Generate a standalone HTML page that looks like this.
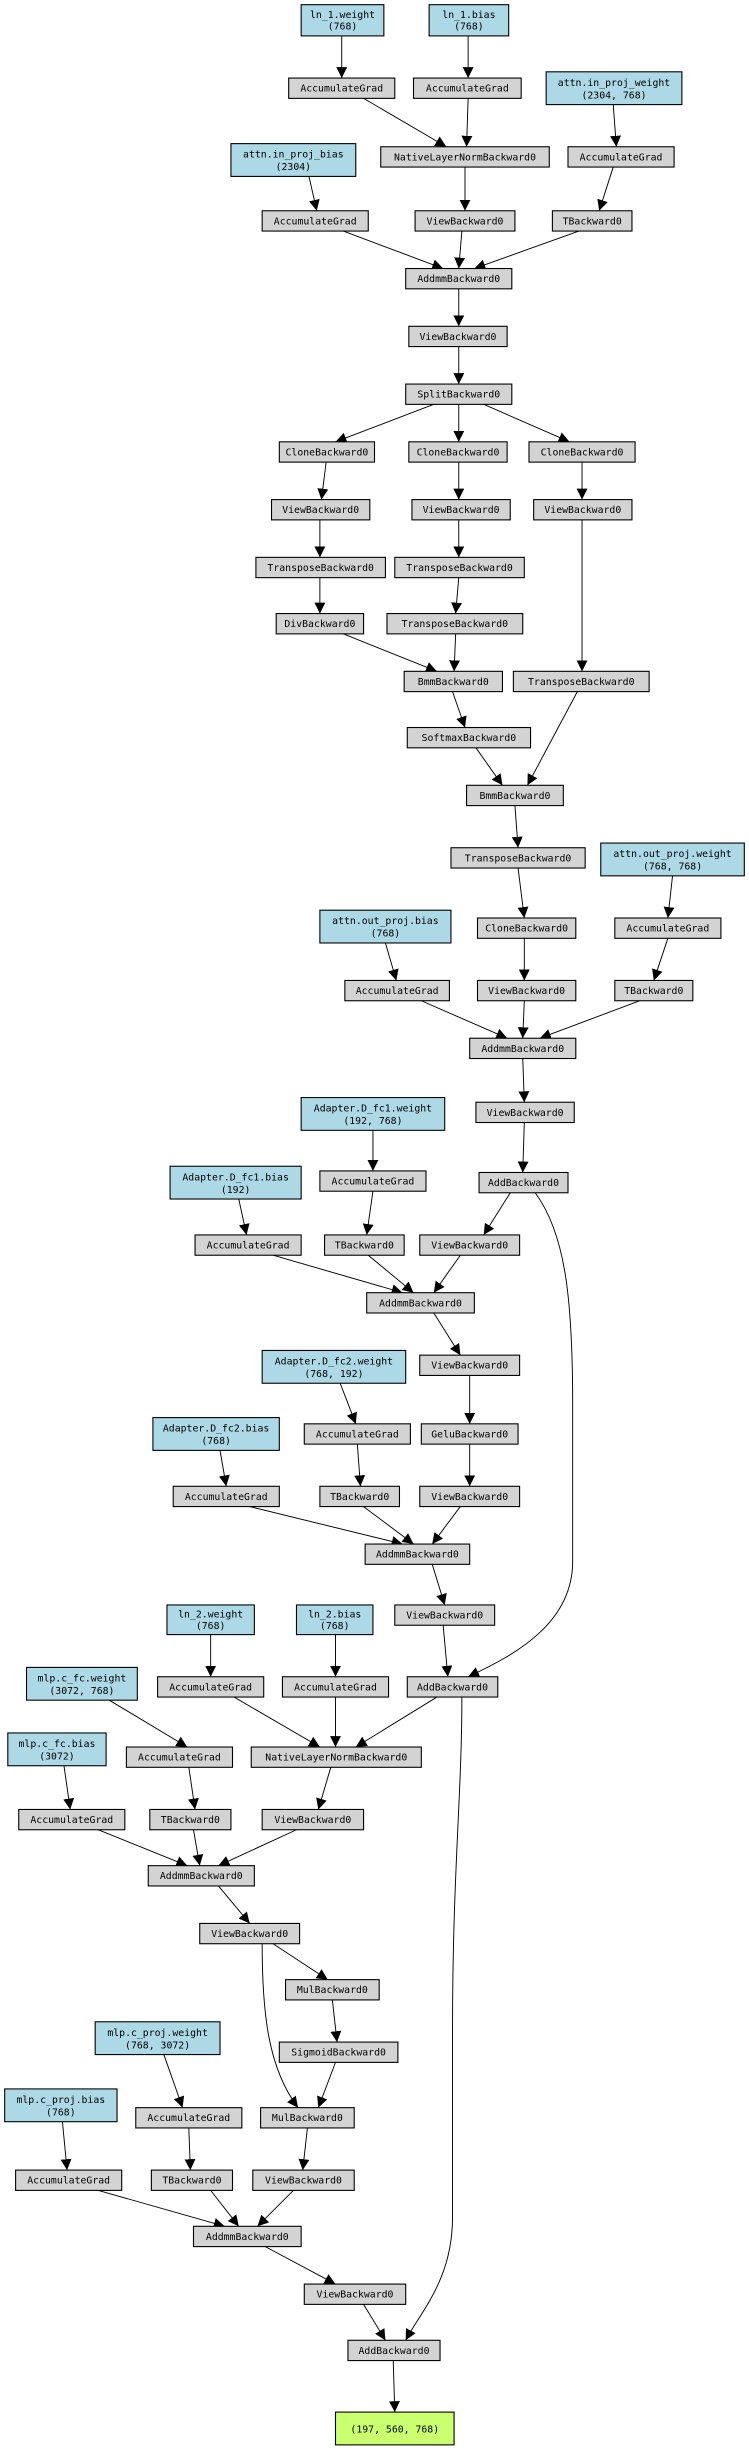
<!DOCTYPE html>
<html><head><meta charset="utf-8"><style>
html,body{margin:0;padding:0;background:#fff;}
svg{display:block;}
text{font-family:"DejaVu Sans Mono","Liberation Mono",monospace;font-size:6.3px;fill:#000;text-anchor:middle;}
.g{fill:#d3d3d3;stroke:#000;stroke-width:0.7;}
.b{fill:#add8e6;stroke:#000;stroke-width:0.7;}
.o{fill:#caff70;stroke:#000;stroke-width:0.7;}
line,path{stroke:#000;stroke-width:0.6;fill:none;marker-end:url(#a);}
</style></head><body>
<svg width="749" height="2448" viewBox="0 0 480 1568" preserveAspectRatio="none" xmlns="http://www.w3.org/2000/svg">
<defs><marker id="a" viewBox="0 0 10 10" refX="10" refY="5" markerWidth="7" markerHeight="7" markerUnits="userSpaceOnUse" orient="auto"><path d="M0,0 L10,5 L0,10 z" style="fill:#000;stroke:none;marker-end:none"/></marker></defs>

<!-- edges -->
<line x1="219" y1="23" x2="219" y2="50"/>
<line x1="300" y1="23" x2="300" y2="50"/>
<line x1="233" y1="63" x2="286" y2="94"/>
<line x1="300" y1="63" x2="299" y2="94"/>
<line x1="393" y1="67" x2="395" y2="94"/>
<line x1="198" y1="113" x2="203" y2="135"/>
<line x1="298" y1="107" x2="298" y2="135"/>
<line x1="393" y1="107" x2="384" y2="135"/>
<line x1="220" y1="148" x2="284" y2="172"/>
<line x1="296" y1="148" x2="294" y2="172"/>
<line x1="371" y1="148" x2="304" y2="172"/>
<line x1="294" y1="185" x2="294" y2="209"/>
<line x1="294" y1="222" x2="294" y2="246"/>
<line x1="278" y1="259" x2="215" y2="283"/>
<line x1="294" y1="259" x2="294" y2="283"/>
<line x1="310" y1="259" x2="365" y2="283"/>
<line x1="209" y1="296" x2="206" y2="320"/>
<line x1="294" y1="296" x2="294" y2="320"/>
<line x1="373" y1="296" x2="373" y2="320"/>
<line x1="205" y1="333" x2="205" y2="357"/>
<line x1="294" y1="333" x2="294" y2="357"/>
<line x1="205" y1="370" x2="205" y2="393"/>
<line x1="294" y1="370" x2="292" y2="393"/>
<line x1="373" y1="333" x2="373" y2="430"/>
<line x1="220" y1="406" x2="280" y2="430"/>
<line x1="292" y1="406" x2="291" y2="430"/>
<line x1="290" y1="443" x2="298" y2="466"/>
<line x1="305" y1="479" x2="322" y2="503"/>
<line x1="370" y1="443" x2="338" y2="503"/>
<line x1="330" y1="516" x2="332" y2="543"/>
<line x1="332" y1="556" x2="336" y2="588"/>
<line x1="431" y1="561" x2="428" y2="588"/>
<line x1="247" y1="604" x2="254" y2="628"/>
<line x1="336" y1="601" x2="336" y2="628"/>
<line x1="428" y1="601" x2="419" y2="628"/>
<line x1="270" y1="641" x2="325" y2="665"/>
<line x1="336" y1="641" x2="335" y2="665"/>
<line x1="410" y1="641" x2="346" y2="665"/>
<line x1="335" y1="678" x2="336" y2="706"/>
<line x1="336" y1="719" x2="335" y2="751"/>
<line x1="239" y1="724" x2="239" y2="750"/>
<line x1="153" y1="768" x2="158" y2="791"/>
<line x1="239" y1="763" x2="235" y2="791"/>
<line x1="327" y1="764" x2="310" y2="791"/>
<line x1="175" y1="804" x2="258" y2="828"/>
<line x1="236" y1="804" x2="265" y2="828"/>
<line x1="295" y1="804" x2="278" y2="828"/>
<line x1="278" y1="841" x2="295" y2="868"/>
<line x1="301" y1="881" x2="301" y2="912"/>
<line x1="218" y1="886" x2="228" y2="912"/>
<line x1="141" y1="929" x2="145" y2="952"/>
<line x1="229" y1="925" x2="231" y2="952"/>
<line x1="301" y1="925" x2="301" y2="952"/>
<line x1="160" y1="965" x2="258" y2="989"/>
<line x1="233" y1="965" x2="265" y2="989"/>
<line x1="295" y1="965" x2="277" y2="989"/>
<line x1="277" y1="1002" x2="285" y2="1028"/>
<line x1="284" y1="1041" x2="287" y2="1074"/>
<path d="M343,764 C362,790 367,830 367,900 L367,1000 C367,1040 330,1060 300,1074"/>
<line x1="135" y1="1047" x2="135" y2="1074"/>
<line x1="215" y1="1047" x2="215" y2="1074"/>
<line x1="70" y1="1089" x2="120" y2="1119"/>
<line x1="150" y1="1087" x2="205" y2="1119"/>
<line x1="215" y1="1087" x2="215" y2="1119"/>
<line x1="280" y1="1087" x2="228" y2="1119"/>
<line x1="41" y1="1131" x2="45" y2="1159"/>
<line x1="121" y1="1132" x2="125" y2="1159"/>
<line x1="212" y1="1132" x2="204" y2="1159"/>
<line x1="63" y1="1172" x2="120" y2="1195"/>
<line x1="124" y1="1172" x2="128" y2="1195"/>
<line x1="190" y1="1172" x2="140" y2="1195"/>
<line x1="140" y1="1208" x2="160" y2="1232"/>
<line x1="175" y1="1245" x2="210" y2="1268"/>
<line x1="213" y1="1281" x2="216" y2="1308"/>
<path d="M168,1245 C168,1290 172,1325 191,1350"/>
<line x1="215" y1="1321" x2="204" y2="1350"/>
<line x1="105" y1="1316" x2="117" y2="1350"/>
<line x1="40" y1="1359" x2="43" y2="1390"/>
<line x1="121" y1="1363" x2="122" y2="1390"/>
<line x1="197" y1="1363" x2="194" y2="1390"/>
<line x1="63" y1="1403" x2="144" y2="1426"/>
<line x1="135" y1="1403" x2="153" y2="1426"/>
<line x1="188" y1="1403" x2="165" y2="1426"/>
<line x1="170" y1="1439" x2="215" y2="1463"/>
<line x1="233" y1="1476" x2="247" y2="1499"/>
<path d="M296,1087 C296,1150 290,1200 290,1300 L290,1420 C290,1460 270,1480 260,1499"/>
<line x1="252" y1="1512" x2="253" y2="1545"/>

<!-- nodes -->
<rect class="b" x="193" y="3" width="53" height="20"/><text x="219.5" y="11.5">ln_1.weight</text><text x="219.5" y="19">(768)</text>
<rect class="b" x="275" y="3" width="51" height="20"/><text x="300.5" y="11.5">ln_1.bias</text><text x="300.5" y="19">(768)</text>
<rect class="g" x="185" y="50" width="68" height="13"/><text x="219" y="58.7">AccumulateGrad</text>
<rect class="g" x="265" y="50" width="69" height="13"/><text x="299.5" y="58.7">AccumulateGrad</text>
<rect class="b" x="350" y="46" width="87" height="21"/><text x="393.5" y="55">attn.in_proj_weight</text><text x="393.5" y="63">(2304, 768)</text>
<rect class="b" x="148" y="92" width="80" height="21"/><text x="188" y="101">attn.in_proj_bias</text><text x="188" y="109">(2304)</text>
<rect class="g" x="244" y="94" width="108" height="13"/><text x="298" y="102.7">NativeLayerNormBackward0</text>
<rect class="g" x="364" y="94" width="68" height="13"/><text x="398" y="102.7">AccumulateGrad</text>
<rect class="g" x="168" y="135" width="68" height="13"/><text x="202" y="143.7">AccumulateGrad</text>
<rect class="g" x="266" y="135" width="64" height="13"/><text x="298" y="143.7">ViewBackward0</text>
<rect class="g" x="354" y="135" width="51" height="13"/><text x="379.5" y="143.7">TBackward0</text>
<rect class="g" x="260" y="172" width="68" height="13"/><text x="294" y="180.7">AddmmBackward0</text>
<rect class="g" x="262" y="209" width="63" height="13"/><text x="293.5" y="217.7">ViewBackward0</text>
<rect class="g" x="260" y="246" width="68" height="13"/><text x="294" y="254.7">SplitBackward0</text>
<rect class="g" x="179" y="283" width="61" height="13"/><text x="209.5" y="291.7">CloneBackward0</text>
<rect class="g" x="262" y="283" width="63" height="13"/><text x="293.5" y="291.7">CloneBackward0</text>
<rect class="g" x="339" y="283" width="68" height="13"/><text x="373" y="291.7">CloneBackward0</text>
<rect class="g" x="174" y="320" width="63" height="13"/><text x="205.5" y="328.7">ViewBackward0</text>
<rect class="g" x="264" y="320" width="63" height="13"/><text x="295.5" y="328.7">ViewBackward0</text>
<rect class="g" x="342" y="320" width="63" height="13"/><text x="373.5" y="328.7">ViewBackward0</text>
<rect class="g" x="164" y="357" width="83" height="13"/><text x="205.5" y="365.7">TransposeBackward0</text>
<rect class="g" x="253" y="357" width="83" height="13"/><text x="294.5" y="365.7">TransposeBackward0</text>
<rect class="g" x="177" y="393" width="56" height="13"/><text x="205" y="401.7">DivBackward0</text>
<rect class="g" x="248" y="393" width="87" height="13"/><text x="291.5" y="401.7">TransposeBackward0</text>
<rect class="g" x="259" y="430" width="63" height="13"/><text x="290.5" y="438.7">BmmBackward0</text>
<rect class="g" x="329" y="430" width="87" height="13"/><text x="372.5" y="438.7">TransposeBackward0</text>
<rect class="g" x="261" y="466" width="79" height="13"/><text x="300.5" y="474.7">SoftmaxBackward0</text>
<rect class="g" x="299" y="503" width="62" height="13"/><text x="330" y="511.7">BmmBackward0</text>
<rect class="g" x="289" y="543" width="86" height="13"/><text x="332" y="551.7">TransposeBackward0</text>
<rect class="b" x="385" y="540" width="92" height="21"/><text x="431" y="549">attn.out_proj.weight</text><text x="431" y="557">(768, 768)</text>
<rect class="b" x="205" y="583" width="84" height="21"/><text x="247" y="592">attn.out_proj.bias</text><text x="247" y="600">(768)</text>
<rect class="g" x="306" y="588" width="63" height="13"/><text x="337.5" y="596.7">CloneBackward0</text>
<rect class="g" x="394" y="588" width="68" height="13"/><text x="428" y="596.7">AccumulateGrad</text>
<rect class="g" x="221" y="628" width="67" height="13"/><text x="254.5" y="636.7">AccumulateGrad</text>
<rect class="g" x="306" y="628" width="63" height="13"/><text x="337.5" y="636.7">ViewBackward0</text>
<rect class="g" x="394" y="628" width="50" height="13"/><text x="419" y="636.7">TBackward0</text>
<rect class="g" x="301" y="665" width="68" height="13"/><text x="335" y="673.7">AddmmBackward0</text>
<rect class="g" x="305" y="706" width="63" height="13"/><text x="336.5" y="714.7">ViewBackward0</text>
<rect class="b" x="193" y="703" width="92" height="21"/><text x="239" y="712">Adapter.D_fc1.weight</text><text x="239" y="720">(192, 768)</text>
<rect class="g" x="205" y="750" width="68" height="13"/><text x="239" y="758.7">AccumulateGrad</text>
<rect class="g" x="307" y="751" width="57" height="13"/><text x="335.5" y="759.7">AddBackward0</text>
<rect class="b" x="109" y="747" width="84" height="21"/><text x="151" y="756">Adapter.D_fc1.bias</text><text x="151" y="764">(192)</text>
<rect class="g" x="125" y="791" width="68" height="13"/><text x="159" y="799.7">AccumulateGrad</text>
<rect class="g" x="208" y="791" width="51" height="13"/><text x="233.5" y="799.7">TBackward0</text>
<rect class="g" x="269" y="791" width="64" height="13"/><text x="301" y="799.7">ViewBackward0</text>
<rect class="g" x="235" y="828" width="69" height="13"/><text x="269.5" y="836.7">AddmmBackward0</text>
<rect class="g" x="269" y="868" width="64" height="13"/><text x="301" y="876.7">ViewBackward0</text>
<rect class="b" x="168" y="865" width="92" height="21"/><text x="214" y="874">Adapter.D_fc2.weight</text><text x="214" y="882">(768, 192)</text>
<rect class="g" x="195" y="912" width="68" height="13"/><text x="229" y="920.7">AccumulateGrad</text>
<rect class="g" x="270" y="912" width="62" height="13"/><text x="301" y="920.7">GeluBackward0</text>
<rect class="b" x="98" y="908" width="81" height="21"/><text x="138.5" y="917">Adapter.D_fc2.bias</text><text x="138.5" y="925">(768)</text>
<rect class="g" x="111" y="952" width="68" height="13"/><text x="145" y="960.7">AccumulateGrad</text>
<rect class="g" x="205" y="952" width="51" height="13"/><text x="230.5" y="960.7">TBackward0</text>
<rect class="g" x="269" y="952" width="64" height="13"/><text x="301" y="960.7">ViewBackward0</text>
<rect class="g" x="234" y="989" width="67" height="13"/><text x="267.5" y="997.7">AddmmBackward0</text>
<rect class="g" x="253" y="1028" width="64" height="13"/><text x="285" y="1036.7">ViewBackward0</text>
<rect class="b" x="107" y="1028" width="56" height="19"/><text x="135" y="1036">ln_2.weight</text><text x="135" y="1043.5">(768)</text>
<rect class="b" x="190" y="1028" width="49" height="19"/><text x="214.5" y="1036">ln_2.bias</text><text x="214.5" y="1043.5">(768)</text>
<rect class="g" x="261" y="1074" width="58" height="13"/><text x="290" y="1082.7">AddBackward0</text>
<rect class="b" x="17" y="1068" width="71" height="21"/><text x="52.5" y="1077">mlp.c_fc.weight</text><text x="52.5" y="1085">(3072, 768)</text>
<rect class="g" x="101" y="1074" width="68" height="13"/><text x="135" y="1082.7">AccumulateGrad</text>
<rect class="g" x="181" y="1074" width="68" height="13"/><text x="215" y="1082.7">AccumulateGrad</text>
<rect class="b" x="5" y="1110" width="63" height="21"/><text x="36.5" y="1119">mlp.c_fc.bias</text><text x="36.5" y="1127">(3072)</text>
<rect class="g" x="81" y="1119" width="68" height="13"/><text x="115" y="1127.7">AccumulateGrad</text>
<rect class="g" x="161" y="1119" width="109" height="13"/><text x="215.5" y="1127.7">NativeLayerNormBackward0</text>
<rect class="g" x="12" y="1159" width="68" height="13"/><text x="46" y="1167.7">AccumulateGrad</text>
<rect class="g" x="96" y="1159" width="52" height="13"/><text x="122" y="1167.7">TBackward0</text>
<rect class="g" x="168" y="1159" width="65" height="13"/><text x="200.5" y="1167.7">ViewBackward0</text>
<rect class="g" x="95" y="1195" width="68" height="13"/><text x="129" y="1203.7">AddmmBackward0</text>
<rect class="g" x="128" y="1232" width="64" height="13"/><text x="160" y="1240.7">ViewBackward0</text>
<rect class="g" x="183" y="1268" width="60" height="13"/><text x="213" y="1276.7">MulBackward0</text>
<rect class="b" x="61" y="1295" width="80" height="21"/><text x="101" y="1304">mlp.c_proj.weight</text><text x="101" y="1312">(768, 3072)</text>
<rect class="g" x="179" y="1308" width="76" height="13"/><text x="217" y="1316.7">SigmoidBackward0</text>
<rect class="b" x="3" y="1338" width="72" height="21"/><text x="39" y="1347">mlp.c_proj.bias</text><text x="39" y="1355">(768)</text>
<rect class="g" x="87" y="1350" width="68" height="13"/><text x="121" y="1358.7">AccumulateGrad</text>
<rect class="g" x="167" y="1350" width="60" height="13"/><text x="197" y="1358.7">MulBackward0</text>
<rect class="g" x="10" y="1390" width="68" height="13"/><text x="44" y="1398.7">AccumulateGrad</text>
<rect class="g" x="97" y="1390" width="52" height="13"/><text x="123" y="1398.7">TBackward0</text>
<rect class="g" x="162" y="1390" width="65" height="13"/><text x="194.5" y="1398.7">ViewBackward0</text>
<rect class="g" x="124" y="1426" width="69" height="13"/><text x="158.5" y="1434.7">AddmmBackward0</text>
<rect class="g" x="195" y="1463" width="65" height="13"/><text x="227.5" y="1471.7">ViewBackward0</text>
<rect class="g" x="223" y="1499" width="59" height="13"/><text x="252.5" y="1507.7">AddBackward0</text>
<rect class="o" x="215" y="1545" width="76" height="21"/><text x="253" y="1558">(197, 560, 768)</text>
</svg>
</body></html>
